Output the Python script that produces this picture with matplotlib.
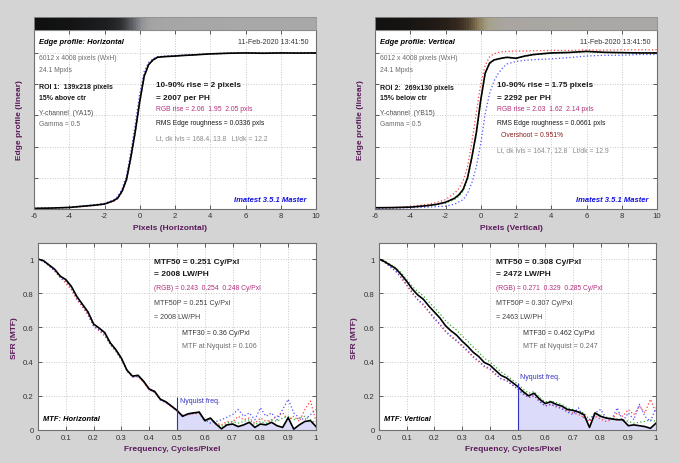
import matplotlib
matplotlib.use('Agg')
import matplotlib.pyplot as plt
import numpy as np

plt.rcParams['font.family'] = ['Liberation Sans', 'DejaVu Sans']

# ---------------- data ----------------
edge_x = [-6, -5, -4, -3, -2.5, -2, -1.5, -1.25, -1, -0.75, -0.5, -0.25, 0, 0.25, 0.5,
          0.75, 1, 1.25, 1.5, 2, 2.5, 3, 4, 5, 6, 7, 8, 9, 10]

edge_h_black = [0.004, 0.006, 0.010, 0.020, 0.025, 0.032, 0.052, 0.070, 0.115, 0.19, 0.335, 0.50, 0.69, 0.85, 0.925,
                0.955, 0.972, 0.975, 0.977, 0.980, 0.984, 0.987, 0.994, 0.998, 1.0, 0.998, 1.0, 0.999, 1.0]
edge_h_red = [0.004, 0.005, 0.009, 0.018, 0.023, 0.030, 0.048, 0.066, 0.108, 0.18, 0.32, 0.49, 0.68, 0.845, 0.922,
              0.955, 0.972, 0.976, 0.978, 0.982, 0.985, 0.988, 0.995, 0.998, 1.0, 0.999, 1.0, 1.0, 1.0]
edge_h_green = [0.004, 0.006, 0.010, 0.020, 0.026, 0.033, 0.053, 0.072, 0.117, 0.19, 0.335, 0.50, 0.69, 0.85, 0.925,
                0.955, 0.971, 0.974, 0.977, 0.980, 0.984, 0.987, 0.993, 0.997, 1.0, 0.998, 1.0, 0.999, 1.0]
edge_h_blue = [0.004, 0.006, 0.011, 0.022, 0.028, 0.036, 0.058, 0.080, 0.13, 0.215, 0.37, 0.55, 0.74, 0.88, 0.94,
               0.962, 0.975, 0.978, 0.980, 0.983, 0.986, 0.988, 0.994, 0.998, 1.0, 0.999, 1.0, 1.0, 1.0]

edge_v_black = [0.008, 0.009, 0.012, 0.022, 0.030, 0.043, 0.068, 0.090, 0.125, 0.20, 0.335, 0.49, 0.70, 0.87, 0.935,
                0.955, 0.962, 0.968, 0.972, 0.966, 0.98, 0.99, 1.0, 1.003, 1.01, 1.004, 1.002, 1.0, 1.0]
edge_v_red = [0.008, 0.010, 0.016, 0.030, 0.042, 0.060, 0.10, 0.13, 0.18, 0.27, 0.43, 0.62, 0.80, 0.92, 0.975,
              0.995, 1.003, 1.008, 1.010, 1.012, 1.012, 1.014, 1.016, 1.016, 1.02, 1.018, 1.02, 1.02, 1.02]
edge_v_green = [0.007, 0.008, 0.011, 0.020, 0.027, 0.038, 0.060, 0.080, 0.115, 0.19, 0.325, 0.48, 0.69, 0.865, 0.93,
                0.952, 0.96, 0.966, 0.97, 0.966, 0.978, 0.988, 0.998, 1.002, 1.008, 1.003, 1.0, 1.0, 1.0]
edge_v_blue = [0.005, 0.006, 0.008, 0.012, 0.015, 0.018, 0.030, 0.045, 0.06, 0.10, 0.17, 0.27, 0.42, 0.61, 0.74,
               0.82, 0.87, 0.905, 0.93, 0.945, 0.953, 0.957, 0.962, 0.97, 0.98, 0.985, 0.985, 0.99, 0.99]

freq = [round(0.02 * i, 2) for i in range(51)]

mtf_h_black = [1.0, 0.99, 0.965, 0.94, 0.90, 0.88, 0.84, 0.78, 0.735, 0.69, 0.62, 0.596, 0.57, 0.51, 0.47, 0.42,
               0.35, 0.315, 0.32, 0.285, 0.24, 0.225, 0.18, 0.165, 0.14, 0.115, 0.08, 0.095, 0.10, 0.105, 0.055,
               0.07, 0.035, 0.007, 0.03, 0.035, 0.02, 0.03, 0.045, 0.015, 0.035, 0.03, 0.045, 0.025, 0.015, 0.072,
               0.005, 0.03, 0.05, 0.055, 0.02]
mtf_h_red = [1.0, 0.99, 0.96, 0.93, 0.89, 0.86, 0.82, 0.76, 0.72, 0.67, 0.61, 0.58, 0.55, 0.50, 0.46, 0.41,
             0.35, 0.31, 0.31, 0.28, 0.235, 0.22, 0.18, 0.16, 0.135, 0.11, 0.085, 0.09, 0.095, 0.10, 0.06,
             0.065, 0.04, 0.03, 0.05, 0.045, 0.08, 0.06, 0.07, 0.04, 0.07, 0.05, 0.06, 0.08, 0.10, 0.06,
             0.08, 0.05, 0.12, 0.17, 0.05]
mtf_h_green = [1.0, 0.99, 0.965, 0.94, 0.90, 0.875, 0.84, 0.78, 0.735, 0.69, 0.62, 0.595, 0.57, 0.51, 0.47, 0.42,
               0.35, 0.315, 0.32, 0.285, 0.24, 0.225, 0.18, 0.165, 0.14, 0.115, 0.08, 0.095, 0.10, 0.10, 0.05,
               0.07, 0.04, 0.02, 0.04, 0.05, 0.04, 0.05, 0.06, 0.03, 0.05, 0.04, 0.06, 0.05, 0.07, 0.08,
               0.06, 0.07, 0.08, 0.06, 0.04]
mtf_h_blue = [1.0, 0.985, 0.96, 0.93, 0.895, 0.87, 0.83, 0.77, 0.725, 0.68, 0.605, 0.585, 0.56, 0.50, 0.465, 0.415,
              0.345, 0.31, 0.315, 0.28, 0.235, 0.22, 0.175, 0.16, 0.14, 0.11, 0.085, 0.09, 0.10, 0.10, 0.06,
              0.04, 0.05, 0.06, 0.075, 0.09, 0.12, 0.08, 0.10, 0.06, 0.13, 0.08, 0.10, 0.06, 0.12, 0.18,
              0.10, 0.07, 0.06, 0.09, 0.12]

mtf_v_black = [1.0, 0.985, 0.965, 0.945, 0.91, 0.87, 0.825, 0.79, 0.765, 0.725, 0.69, 0.655, 0.61, 0.58, 0.555,
               0.52, 0.49, 0.455, 0.43, 0.395, 0.38, 0.35, 0.32, 0.305, 0.28, 0.255, 0.225, 0.20, 0.215, 0.18,
               0.155, 0.165, 0.15, 0.14, 0.12, 0.115, 0.105, 0.09, 0.015, 0.10, 0.08, 0.07, 0.065, 0.06, 0.06,
               0.025, 0.03, 0.025, 0.02, 0.01, 0.04]
mtf_v_red = [1.0, 0.98, 0.955, 0.93, 0.89, 0.845, 0.80, 0.76, 0.73, 0.69, 0.65, 0.615, 0.575, 0.545, 0.52,
             0.49, 0.46, 0.425, 0.40, 0.37, 0.355, 0.325, 0.30, 0.29, 0.265, 0.24, 0.215, 0.19, 0.20, 0.17,
             0.14, 0.15, 0.135, 0.125, 0.11, 0.10, 0.09, 0.075, 0.05, 0.08, 0.065, 0.05, 0.06, 0.10, 0.08,
             0.12, 0.09, 0.14, 0.10, 0.18, 0.10]
mtf_v_green = [1.0, 0.99, 0.97, 0.95, 0.92, 0.88, 0.84, 0.81, 0.785, 0.75, 0.715, 0.68, 0.64, 0.61, 0.585,
               0.55, 0.52, 0.485, 0.455, 0.42, 0.40, 0.37, 0.34, 0.32, 0.295, 0.27, 0.24, 0.215, 0.225, 0.19,
               0.165, 0.17, 0.16, 0.15, 0.13, 0.12, 0.11, 0.10, 0.06, 0.10, 0.085, 0.075, 0.07, 0.065, 0.06,
               0.05, 0.04, 0.045, 0.05, 0.06, 0.05]
mtf_v_blue = [1.0, 0.985, 0.955, 0.93, 0.895, 0.85, 0.805, 0.765, 0.735, 0.695, 0.655, 0.62, 0.58, 0.55, 0.525,
              0.495, 0.465, 0.43, 0.405, 0.375, 0.36, 0.33, 0.30, 0.29, 0.265, 0.24, 0.21, 0.19, 0.20, 0.165,
              0.14, 0.15, 0.14, 0.125, 0.105, 0.09, 0.13, 0.07, 0.06, 0.10, 0.12, 0.07, 0.06, 0.13, 0.05,
              0.10, 0.06, 0.15, 0.08, 0.05, 0.13]

edge_xticks = [-6, -4, -2, 0, 2, 4, 6, 8, 10]
mtf_xticks = [0, 0.1, 0.2, 0.3, 0.4, 0.5, 0.6, 0.7, 0.8, 0.9, 1]
mtf_xticklabels = ['0', '0.1', '0.2', '0.3', '0.4', '0.5', '0.6', '0.7', '0.8', '0.9', '1']
mtf_yticks = [0, 0.2, 0.4, 0.6, 0.8, 1]
mtf_yticklabels = ['0', '0.2', '0.4', '0.6', '0.8', '1']

# ---------------- layout helpers ----------------
W, H = 680, 464
BG = '#d4d4d4'
PURPLE = '#5a1a5a'
MAG = '#b0307a'
GRAY = '#6a6a6a'
DARK = '#1a1a1a'
DOT = (0, (1, 1.8))


def rect(l, t, r, b):
    return [l / W, 1 - b / H, (r - l) / W, (b - t) / H]


fig = plt.figure(figsize=(6.8, 4.64), dpi=100, facecolor=BG)


def T(x, y, s, **kw):
    kw.setdefault('va', 'center')
    fig.text(x / W, 1 - y / H, s, **kw)


def style(ax):
    ax.set_facecolor('white')
    ax.tick_params(direction='in', top=True, right=True, length=3, width=0.6,
                   color='#404040', labelcolor='#333333', labelsize=5.6)
    ax.grid(True, color='#c8c8c8', linestyle=':', linewidth=0.7)
    ax.set_axisbelow(True)
    for s in ax.spines.values():
        s.set_color('#707070')
        s.set_linewidth(0.8)


def edge_panel(l, r, black, red, green, blue):
    ax = fig.add_axes(rect(l, 31, r, 210))
    style(ax)
    ax.tick_params(axis='x', pad=2.5)
    ax.set_xlim(-6, 10)
    ax.set_ylim(0, 1.147)
    ax.set_xticks(edge_xticks)
    ax.set_xticklabels([str(v) for v in edge_xticks])
    ax.set_yticks([0, 0.2, 0.4, 0.6, 0.8, 1.0])
    ax.set_yticklabels([])
    ax.plot(edge_x, red, linestyle=DOT, color='#ff4040', lw=0.9)
    ax.plot(edge_x, green, linestyle=DOT, color='#30b030', lw=0.9)
    ax.plot(edge_x, blue, linestyle=DOT, color='#5050ff', lw=0.9)
    ax.plot(edge_x, black, '-', color='black', lw=1.2)
    # gradient bar showing the edge
    bar = fig.add_axes(rect(l, 18, r, 31))
    xs = np.linspace(-6, 10, 130)
    rgb = np.stack([np.interp(xs, edge_x, c) for c in (red, green, blue)], axis=-1)
    rgb = np.clip(0.04 + 0.62 * np.clip(rgb, 0, None) ** 0.6, 0, 1)
    bar.imshow(rgb[None, :, :], aspect='auto', extent=(-6, 10, 0, 1), interpolation='nearest')
    bar.set_xticks([])
    bar.set_yticks([])
    for s in bar.spines.values():
        s.set_color('#909090')
        s.set_linewidth(0.6)
    return ax


def mtf_panel(l, r, black, red, green, blue, nyq_top, nyq_text_y):
    ax = fig.add_axes(rect(l, 244, r, 431))
    style(ax)
    ax.tick_params(axis='both', pad=3.2)
    ax.set_xlim(0, 1)
    ax.set_ylim(0, 1.094)
    ax.set_xticks(mtf_xticks)
    ax.set_xticklabels(mtf_xticklabels)
    ax.set_yticks(mtf_yticks)
    ax.set_yticklabels(mtf_yticklabels)
    f = np.array(freq)
    b = np.array(black)
    m = f >= 0.5 - 1e-9
    ax.fill_between(f[m], 0, b[m], color='#dcdcfa', lw=0)
    ax.plot(freq, red, linestyle=DOT, color='#ff4040', lw=0.9)
    ax.plot(freq, green, linestyle=DOT, color='#30b030', lw=0.9)
    ax.plot(freq, blue, linestyle=DOT, color='#5050ff', lw=0.9)
    ax.plot(freq, black, '-', color='black', lw=1.2)
    ax.vlines(0.5, 0, nyq_top, color='#3030c0', lw=0.8)
    ax.text(0.51, nyq_text_y, 'Nyquist freq.', color='#3030c0', fontsize=5, va='center')
    return ax


# ---------------- panels ----------------
edge_panel(34, 316, edge_h_black, edge_h_red, edge_h_green, edge_h_blue)
edge_panel(375, 657, edge_v_black, edge_v_red, edge_v_green, edge_v_blue)
mtf_panel(38, 316, mtf_h_black, mtf_h_red, mtf_h_green, mtf_h_blue, 0.195, 0.17)
mtf_panel(379, 656, mtf_v_black, mtf_v_red, mtf_v_green, mtf_v_blue, 0.275, 0.315)

# axis labels
lab = dict(color=PURPLE, fontsize=6, fontweight='bold', ha='center')
T(170, 228.7, 'Pixels (Horizontal)', **lab)
T(511, 228.7, 'Pixels (Vertical)', **lab)
T(172, 449.3, 'Frequency, Cycles/Pixel', **lab)
T(513, 449.3, 'Frequency, Cycles/Pixel', **lab)
T(20, 120, 'Edge profile (linear)', rotation=90, **lab)
T(360.7, 120, 'Edge profile (linear)', rotation=90, **lab)
T(15, 338, 'SFR (MTF)', rotation=90, **lab)
T(355, 338, 'SFR (MTF)', rotation=90, **lab)

# ---------------- top-left text ----------------
bi = dict(fontweight='bold', fontstyle='italic', fontsize=5.4, color='black')
T(39, 42.3, 'Edge profile: Horizontal', **bi)
T(309, 42.3, '11-Feb-2020 13:41:50', ha='right', fontsize=5.1, color='#333333')
T(39, 59, '6012 x 4008 pixels (WxH)', fontsize=4.9, color=GRAY)
T(39, 71, '24.1 Mpxls', fontsize=4.9, color=GRAY)
T(39, 87.7, 'ROI 1:  139x218 pixels', fontsize=5, fontweight='bold', color=DARK)
T(39, 99, '15% above ctr', fontsize=5, fontweight='bold', color=DARK)
T(39, 113.3, 'Y-channel  (YA15)', fontsize=4.9, color='#505050')
T(39, 125, 'Gamma = 0.5', fontsize=4.9, color=GRAY)
T(156, 86, '10-90% rise = 2 pixels', fontsize=5.9, fontweight='bold', color=DARK)
T(156, 98.3, '= 2007 per PH', fontsize=5.9, fontweight='bold', color=DARK)
T(156, 110, 'RGB rise = 2.06  1.95  2.05 pxls', fontsize=4.9, color=MAG)
T(156, 123.3, 'RMS Edge roughness = 0.0336 pxls', fontsize=4.9, color=DARK)
T(156, 138.3, 'Lt, dk lvls = 168.4, 13.8   Lt/dk = 12.2', fontsize=4.9, color='#8a8a8a')
T(307, 201, 'Imatest 3.5.1 Master', ha='right', fontsize=5.5, fontweight='bold',
  fontstyle='italic', color='#1010e0')

# ---------------- top-right text ----------------
T(380, 42.3, 'Edge profile: Vertical', **bi)
T(650.7, 42.3, '11-Feb-2020 13:41:50', ha='right', fontsize=5.1, color='#333333')
T(380, 59, '6012 x 4008 pixels (WxH)', fontsize=4.9, color=GRAY)
T(380, 71, '24.1 Mpxls', fontsize=4.9, color=GRAY)
T(380, 88, 'ROI 2:  269x130 pixels', fontsize=5, fontweight='bold', color=DARK)
T(380, 99, '15% below ctr', fontsize=5, fontweight='bold', color=DARK)
T(380, 113.3, 'Y-channel  (YB15)', fontsize=4.9, color='#505050')
T(380, 125, 'Gamma = 0.5', fontsize=4.9, color=GRAY)
T(497.3, 86, '10-90% rise = 1.75 pixels', fontsize=5.9, fontweight='bold', color=DARK)
T(497.3, 98.3, '= 2292 per PH', fontsize=5.9, fontweight='bold', color=DARK)
T(497.3, 110, 'RGB rise = 2.03  1.62  2.14 pxls', fontsize=4.9, color=MAG)
T(497.3, 123.3, 'RMS Edge roughness = 0.0661 pxls', fontsize=4.9, color=DARK)
T(501, 135.7, 'Overshoot = 0.951%', fontsize=4.9, color='#8b2020')
T(497.3, 150.7, 'Lt, dk lvls = 164.7, 12.8   Lt/dk = 12.9', fontsize=4.9, color='#8a8a8a')
T(648, 201, 'Imatest 3.5.1 Master', ha='right', fontsize=5.5, fontweight='bold',
  fontstyle='italic', color='#1010e0')

# ---------------- bottom-left text ----------------
T(154.3, 262.3, 'MTF50 = 0.251 Cy/Pxl', fontsize=6, fontweight='bold', color=DARK)
T(154.3, 275, '= 2008 LW/PH', fontsize=6, fontweight='bold', color=DARK)
T(154.3, 288, '(RGB) = 0.243  0.254  0.248 Cy/Pxl', fontsize=4.9, color=MAG)
T(154.3, 304, 'MTF50P = 0.251 Cy/Pxl', fontsize=5.1, color='#404040')
T(154.3, 317.7, '= 2008 LW/PH', fontsize=5.1, color='#404040')
T(182, 333.3, 'MTF30 = 0.36 Cy/Pxl', fontsize=5.1, color='#303030')
T(182, 346.7, 'MTF at Nyquist = 0.106', fontsize=5.1, color=GRAY)
T(42.7, 420, 'MTF: Horizontal', **bi)

# ---------------- bottom-right text ----------------
T(495.7, 262.3, 'MTF50 = 0.308 Cy/Pxl', fontsize=6, fontweight='bold', color=DARK)
T(495.7, 275, '= 2472 LW/PH', fontsize=6, fontweight='bold', color=DARK)
T(495.7, 288, '(RGB) = 0.271  0.329  0.285 Cy/Pxl', fontsize=4.9, color=MAG)
T(495.7, 304, 'MTF50P = 0.307 Cy/Pxl', fontsize=5.1, color='#404040')
T(495.7, 317.7, '= 2463 LW/PH', fontsize=5.1, color='#404040')
T(523, 333.3, 'MTF30 = 0.462 Cy/Pxl', fontsize=5.1, color='#303030')
T(523, 346.7, 'MTF at Nyquist = 0.247', fontsize=5.1, color=GRAY)
T(384, 420, 'MTF: Vertical', **bi)

fig.savefig('out.png', dpi=100, facecolor=BG)
